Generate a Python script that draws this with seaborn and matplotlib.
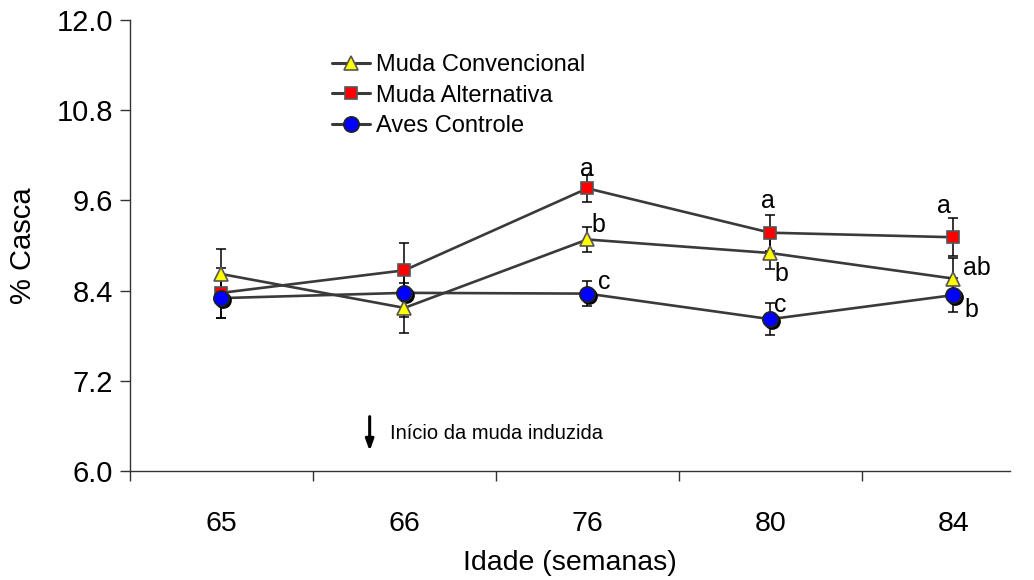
import matplotlib
matplotlib.use("Agg")
import matplotlib.pyplot as plt
import matplotlib.transforms as mtransforms
from matplotlib.lines import Line2D
import seaborn as sns
import pandas as pd
import numpy as np

# ---------------- data ----------------
idades = ["65", "66", "76", "80", "84"]
grupos = ["Muda Convencional", "Muda Alternativa", "Aves Controle"]
conv_vals = [8.62, 8.17, 9.08, 8.90, 8.56]
conv_err = [0.34, 0.33, 0.17, 0.21, 0.27]
alt_vals = [8.37, 8.67, 9.76, 9.17, 9.11]
alt_err = [0.33, 0.36, 0.18, 0.24, 0.25]
ctrl_vals = [8.30, 8.37, 8.36, 8.02, 8.34]
ctrl_err = [0.27, 0.32, 0.17, 0.21, 0.23]
# significance letters: (group, age index, letter)
letras = [
    ("Muda Alternativa", 2, "a"), ("Muda Convencional", 2, "b"), ("Aves Controle", 2, "c"),
    ("Muda Alternativa", 3, "a"), ("Muda Convencional", 3, "b"), ("Aves Controle", 3, "c"),
    ("Muda Alternativa", 4, "a"), ("Muda Convencional", 4, "ab"), ("Aves Controle", 4, "b"),
]
# letter offsets in pixels (dx, dy) and alignment
letra_offsets = [
    (0, 12, "center"), (4, 7, "left"), (11, 5, "left"),
    (-2, 25, "center"), (4, -28, "left"), (4, 7, "left"),
    (-9, 24, "center"), (10, 4, "left"), (11, -22, "left"),
]
nota = "Início da muda induzida"
yticks = [6.0, 7.2, 8.4, 9.6, 10.8, 12.0]

vals = {"Muda Convencional": conv_vals, "Muda Alternativa": alt_vals, "Aves Controle": ctrl_vals}
errs = {"Muda Convencional": conv_err, "Muda Alternativa": alt_err, "Aves Controle": ctrl_err}

rows = []
for g in grupos:
    for i, (v, e) in enumerate(zip(vals[g], errs[g])):
        rows.append({"grupo": g, "pos": i, "idade": idades[i], "valor": v, "erro": e})
df = pd.DataFrame(rows)

# ---------------- style ----------------
sns.set_theme(style="white")
plt.rcParams["font.family"] = ["Liberation Sans", "DejaVu Sans"]
plt.rcParams["text.color"] = "black"
plt.rcParams["axes.labelcolor"] = "black"
plt.rcParams["xtick.color"] = "black"
plt.rcParams["ytick.color"] = "black"

line_col = "#3a3a3a"
face = {"Muda Convencional": "#ffff00", "Muda Alternativa": "#ff0000", "Aves Controle": "#0000ff"}
mk = {"Muda Convencional": "^", "Muda Alternativa": "s", "Aves Controle": "o"}
msz = {"Muda Convencional": 10.5, "Muda Alternativa": 8.5, "Aves Controle": 11}
edge = {"Muda Convencional": "#555555", "Muda Alternativa": "#555555", "Aves Controle": "#222222"}

fig = plt.figure(figsize=(10.34, 5.80), dpi=100)
ax = fig.add_axes([130 / 1034, 1 - 471 / 580, 880 / 1034, 451 / 580])

# lines
sns.lineplot(data=df, x="pos", y="valor", hue="grupo", hue_order=grupos,
             palette=[line_col] * 3, lw=1.9, ax=ax, legend=False, zorder=2)

# error bars
for g in grupos:
    sub = df[df.grupo == g]
    ax.errorbar(sub["pos"], sub["valor"], yerr=sub["erro"], fmt="none",
                ecolor="black", elinewidth=1.1, capsize=3.8, capthick=1.1, zorder=2.5)

# shadow for circles
shadow = mtransforms.offset_copy(ax.transData, fig=fig, x=2, y=-2, units="dots")
sub = df[df.grupo == "Aves Controle"]
ax.plot(sub["pos"], sub["valor"], ls="none", marker="o", ms=msz["Aves Controle"],
        mfc="black", mec="black", transform=shadow, zorder=3)

# markers
for z, g in zip([3.2, 3.1, 3.3], grupos):
    sub = df[df.grupo == g]
    ax.plot(sub["pos"], sub["valor"], ls="none", marker=mk[g], ms=msz[g],
            mfc=face[g], mec=edge[g], mew=1.2, zorder=z)

# letters
for (g, i, txt), (dx, dy, ha) in zip(letras, letra_offsets):
    ax.annotate(txt, (i, vals[g][i]), xytext=(dx * 0.72, dy * 0.72), textcoords="offset points",
                ha=ha, va="baseline", fontsize=18, color="black", zorder=5)

# arrow + note
ax.annotate("", xy=(0.81, 6.23), xytext=(0.81, 6.76),
            arrowprops=dict(arrowstyle="-|>,head_length=0.55,head_width=0.2", color="black", lw=2.2))
ax.text(0.92, 6.5, nota, fontsize=14.5, ha="left", va="center", color="black")

# axes
ax.set_xlim(-0.5, 4.31)
ax.set_ylim(6.0, 12.0)
ax.set_yticks(yticks)
ax.set_yticklabels([f"{t:.1f}" for t in yticks])
ax.set_xticks(range(len(idades)))
ax.set_xticklabels(idades)
ax.set_xticks(np.arange(-0.5, 4.0, 1.0), minor=True)
ax.tick_params(axis="x", which="major", length=0, pad=29, labelsize=20.5, labelcolor="black")
ax.tick_params(axis="x", which="minor", length=7, width=1, color="#333333", direction="out", bottom=True)
ax.tick_params(axis="y", which="major", length=7, width=1, color="#333333", direction="out", left=True,
               pad=5, labelsize=21, labelcolor="black")
ax.set_xlabel("Idade (semanas)", fontsize=20.5, labelpad=9, color="black")
ax.set_ylabel("% Casca", fontsize=21, labelpad=14, color="black")
for s in ["top", "right"]:
    ax.spines[s].set_visible(False)
for s in ["left", "bottom"]:
    ax.spines[s].set_color("#333333")
    ax.spines[s].set_linewidth(1.0)
ax.grid(False)

# legend
handles = [Line2D([], [], color=line_col, lw=2.2, marker=mk[g], ms=msz[g],
                  mfc=face[g], mec=edge[g], mew=1.2) for g in grupos]
leg = ax.legend(handles, grupos, loc="upper left", bbox_to_anchor=(0.229, 0.925), frameon=False,
                fontsize=17, handlelength=1.65, handletextpad=0.25, labelspacing=0.37,
                borderpad=0, borderaxespad=0)
for t in leg.get_texts():
    t.set_color("black")

fig.savefig("out.png", dpi=100)
